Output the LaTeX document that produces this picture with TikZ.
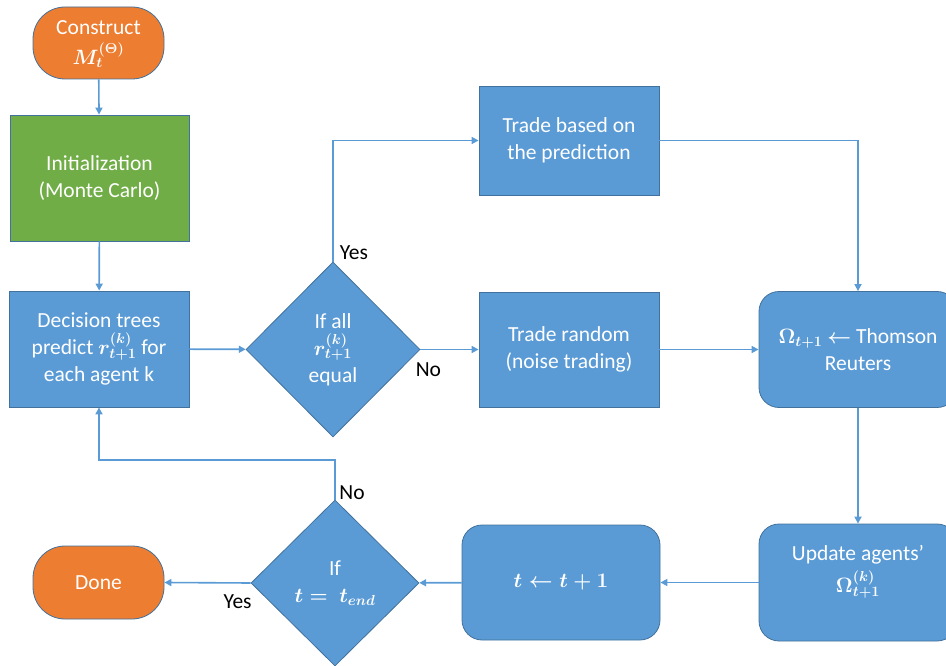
\documentclass[tikz,border=0pt]{standalone}
\usepackage{fontspec}
\setmainfont{Carlito}
\usetikzlibrary{shapes.geometric,arrows.meta}

\definecolor{boxblue}{HTML}{5B9BD5}
\definecolor{edgeblue}{HTML}{41719C}
\definecolor{termorange}{HTML}{ED7D31}
\definecolor{initgreen}{HTML}{70AD47}
\definecolor{linkblue}{HTML}{5B9BD5}

% formulas set in the heavier math weight so they sit well beside the text
\newcommand{\fml}[1]{{\boldmath$#1$}}

\tikzset{
  base/.style={draw=edgeblue, line width=0.8pt, fill=boxblue, text=white,
    align=center, inner sep=2pt},
  procbox/.style={base, rectangle},
  roundbox/.style={base, rectangle, rounded corners=20pt},
  decision/.style={base, diamond, inner sep=0pt},
  terminal/.style={base, rectangle, rounded corners=32pt, fill=termorange},
  initbox/.style={base, rectangle, fill=initgreen},
  link/.style={draw=linkblue, line width=1.6pt,
    -{Triangle[length=7pt,width=7pt]}},
  tag/.style={text=black, inner sep=0pt},
}

\begin{document}
\begin{tikzpicture}[x=1pt, y=-1pt, font=\fontsize{21.5}{27}\selectfont]
\useasboundingbox (0,0) rectangle (946,666);
\clip (0,0) rectangle (946,666);

% boxes
\node[terminal, minimum width=131pt, minimum height=72pt] (start) at (98.5,43) {};
\node[text=white, align=center, inner sep=0pt] (starttext) at (98.5,44)
  {Construct\\[3pt]\fml{M_t^{(\Theta)}}};
\node[initbox, minimum width=179pt, minimum height=126pt] (init) at (99.5,178)
  {Initialization\\(Monte Carlo)};
\node[procbox, minimum width=180pt, minimum height=116pt] (dec) at (99,349)
  {Decision trees\\predict \fml{r_{t+1}^{(k)}} for\\each agent k};
\node[decision, minimum width=174pt, minimum height=175pt] (q1) at (333,349.5)
  {If all\\\fml{r_{t+1}^{(k)}}\\equal};
\node[procbox, minimum width=180pt, minimum height=109pt] (tb) at (569,140.5)
  {Trade based on\\the prediction};
\node[procbox, minimum width=180pt, minimum height=115pt] (tr) at (569,349.5)
  {Trade random\\(noise trading)};
\node[roundbox, minimum width=198pt, minimum height=116pt] (thom) at (858,349.5)
  {\fml{\Omega_{t+1}} \fml{\leftarrow} Thomson\\Reuters};
\node[roundbox, minimum width=198pt, minimum height=117pt] (upd) at (858,582.5) {};
\node[text=white, align=center] (updtext) at (858,572)
  {Update agents'\\[5pt]\fml{\Omega_{t+1}^{(k)}}};
\node[roundbox, minimum width=198pt, minimum height=115pt] (tstep) at (561,582.5)
  {\fml{t \leftarrow t+1}};
\node[decision, minimum width=168pt, minimum height=166pt] (q2) at (335,583)
  {If\\\fml{t =\ t_{end}}};
\node[terminal, minimum width=131pt, minimum height=73pt] (done) at (98.5,582.5)
  {Done};

\coordinate (back) at (335,460);

% connectors
\draw[link] (start) -- (init);
\draw[link] (init) -- (dec);
\draw[link] (dec) -- (q1);
\draw[link] (q1.north) |- (tb.west);
\draw[link] (q1.east) -- (tr.west);
\draw[link] (tb.east) -| (thom.north);
\draw[link] (tr) -- (thom);
\draw[link] (thom) -- (upd);
\draw[link] (upd) -- (tstep);
\draw[link] (tstep) -- (q2);
\draw[link] (q2.west) -- (done.east);
\draw[link] (q2.north) -- (back) -| (dec.south);

% branch labels
\node[tag] (yes1) at ([xshift=21pt,yshift=9pt]q1.north) {Yes};
\node[tag] (no1) at ([xshift=8pt,yshift=-20pt]q1.east) {No};
\node[tag] (yes2) at ([xshift=-13pt,yshift=-19pt]q2.west) {Yes};
\node[tag] (no2) at ([xshift=17pt,yshift=7pt]q2.north) {No};
\end{tikzpicture}
\end{document}
